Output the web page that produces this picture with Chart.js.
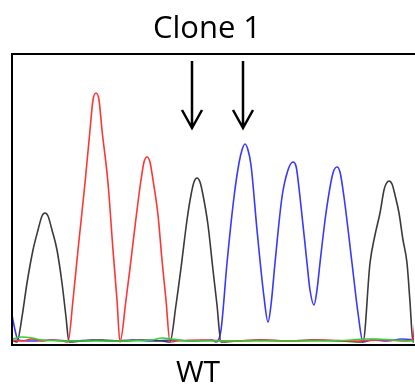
<!DOCTYPE html>
<html>
<head>
<meta charset="utf-8">
<script src="https://cdn.jsdelivr.net/npm/chart.js@4/dist/chart.umd.min.js"></script>
<style>
  html, body { margin: 0; padding: 0; background: #fff; }
  #trace { display: block; }
</style>
</head>
<body>
<canvas id="trace" width="415" height="385"></canvas>
<script>
// ── Trace data (scan position, signal) ───────────────────────────
const blackX = [0, 5, 10, 15, 21, 26, 30, 33, 36, 40, 45, 50, 54, 57, 70, 90, 110, 130, 150, 158,
                164, 169, 175, 179, 182, 185, 188, 191, 196, 201, 205, 209, 225, 250, 275, 300, 330, 351,
                358, 363, 368, 372, 374, 377, 380, 383, 387, 391, 395, 398, 401, 403];
const blackY = [2, 0, 25, 59, 92, 112, 126, 129, 126, 112, 92, 59, 25, 0, 1, 2, 1, 2, 1, 0,
                37, 74, 122, 147, 160, 164, 160, 147, 117, 72, 37, 0, 1, 2, 1, 2, 1, 0,
                79, 107, 129, 152, 158, 161, 158, 147, 129, 102, 79, 40, 0, 1];

const redX = [0, 10, 20, 30, 40, 50, 56, 61, 66, 73, 78, 81, 84, 87, 90, 96, 101, 105, 108,
              114, 119, 125, 129, 132, 135, 138, 141, 146, 150, 154, 158,
              165, 190, 220, 250, 280, 310, 340, 370, 395, 401, 403];
const redY = [2, 1, 3, 1, 2, 1, 0, 42, 92, 159, 212, 242, 249, 242, 212, 159, 92, 42, 0,
              42, 82, 132, 162, 180, 185, 180, 162, 127, 82, 42, 0,
              1, 2, 1, 2, 1, 2, 1, 2, 1, 3, 20];

const blueX = [0, 3, 6, 20, 40, 60, 80, 100, 120, 140, 160, 180, 200, 204,
               209, 215, 222, 227, 230, 233, 236, 239, 245, 252, 256,
               259, 263, 270, 276, 281, 284, 288, 295, 298, 302,
               305, 308, 314, 321, 325, 328, 332, 340, 346, 351,
               360, 375, 390, 403];
const blueY = [27, 12, 2, 1, 2, 1, 2, 1, 2, 1, 2, 1, 2, 0,
               12, 79, 145, 179, 192, 198, 192, 177, 112, 45, 20,
               37, 79, 145, 172, 180, 176, 145, 79, 52, 37,
               52, 79, 129, 169, 175, 170, 145, 79, 29, 0,
               2, 1, 3, 2];

const greenX = [0, 10, 20, 30, 60, 100, 140, 150, 160, 175, 220, 260, 300, 340, 350, 365, 380, 403];
const greenY = [3, 5, 4, 2, 1, 1, 2, 4, 3, 1, 1, 1, 1, 2, 3, 3, 2, 1];

const traceColors = { black: "#3a3a3a", red: "#ff3535", blue: "#3838ff", green: "#35d035" };

// arrows point at these scan positions
const arrowAt = [180, 231];
const titleText = "Clone 1";
const bottomText = "WT";

function pts(xs, ys) {
  return xs.map((x, i) => ({ x: x, y: ys[i] }));
}

function trace(name, xs, ys) {
  return {
    label: name,
    data: pts(xs, ys),
    borderColor: traceColors[name],
    borderWidth: 1.6,
    pointRadius: 0,
    cubicInterpolationMode: "monotone",
    fill: false,
  };
}

// ── Frame, arrows and texts ──────────────────────────────────────
const decor = {
  id: "decor",
  afterDraw(chart) {
    const { ctx, chartArea: a, scales } = chart;
    ctx.save();
    ctx.strokeStyle = "#000";
    ctx.lineWidth = 2;
    ctx.beginPath();
    ctx.moveTo(chart.width + 2, a.top);
    ctx.lineTo(a.left, a.top);
    ctx.lineTo(a.left, a.bottom);
    ctx.lineTo(chart.width + 2, a.bottom);
    ctx.stroke();

    ctx.lineWidth = 2.5;
    arrowAt.forEach(v => {
      const x = Math.round(scales.x.getPixelForValue(v));
      const y0 = a.top + 7, y1 = a.top + 74;
      ctx.beginPath();
      ctx.moveTo(x, y0);
      ctx.lineTo(x, y1);
      ctx.moveTo(x - 10, y1 - 18);
      ctx.lineTo(x, y1);
      ctx.lineTo(x + 10, y1 - 18);
      ctx.stroke();
    });

    ctx.fillStyle = "#000";
    ctx.textAlign = "center";
    ctx.textBaseline = "alphabetic";
    ctx.font = "31px 'Open Sans'";
    ctx.fillText(titleText, 207, 38);
    ctx.font = "30px 'Open Sans'";
    ctx.fillText(bottomText, 198, 382);
    ctx.restore();
  }
};

new Chart(document.getElementById("trace"), {
  type: "line",
  data: {
    datasets: [
      trace("green", greenX, greenY),
      trace("red", redX, redY),
      trace("black", blackX, blackY),
      trace("blue", blueX, blueY),
    ]
  },
  options: {
    responsive: false,
    animation: false,
    devicePixelRatio: 1,
    layout: { padding: { left: 12, top: 54, right: 1, bottom: 40 } },
    plugins: { legend: { display: false }, tooltip: { enabled: false }, title: { display: false } },
    scales: {
      x: { type: "linear", min: 0, max: 402, display: false },
      y: { min: -3, max: 288, display: false }
    }
  },
  plugins: [decor]
});
</script>
</body>
</html>
